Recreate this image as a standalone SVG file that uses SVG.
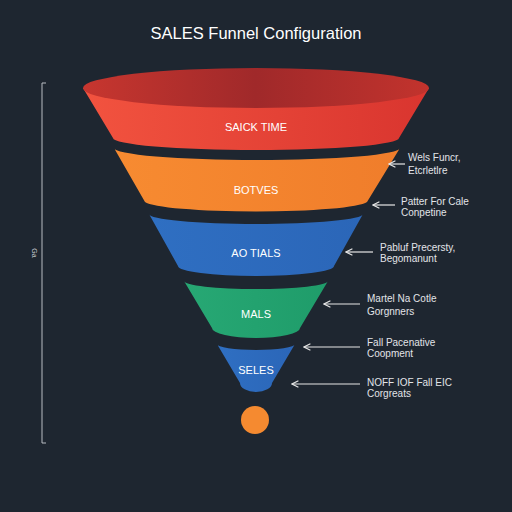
<svg xmlns="http://www.w3.org/2000/svg" width="512" height="512" viewBox="0 0 512 512">
<defs>
<linearGradient id="gRed" x1="0" x2="1" y1="0" y2="0"><stop offset="0" stop-color="#f2533f"/><stop offset="1" stop-color="#d9352f"/></linearGradient>
<linearGradient id="gRedTop" x1="0" x2="1" y1="0" y2="0"><stop offset="0" stop-color="#c7362f"/><stop offset="0.5" stop-color="#a0292a"/><stop offset="1" stop-color="#c2332d"/></linearGradient>
<linearGradient id="gOrange" x1="0" x2="1" y1="0" y2="0"><stop offset="0" stop-color="#f78b31"/><stop offset="1" stop-color="#f07d2b"/></linearGradient>
<linearGradient id="gBlue" x1="0" x2="1" y1="0" y2="0"><stop offset="0" stop-color="#2f6fc2"/><stop offset="1" stop-color="#2b66b8"/></linearGradient>
<linearGradient id="gGreen" x1="0" x2="1" y1="0" y2="0"><stop offset="0" stop-color="#27a874"/><stop offset="1" stop-color="#1f9c6a"/></linearGradient>
<marker id="ah" viewBox="0 0 10 10" refX="1" refY="5" markerWidth="8" markerHeight="8" markerUnits="userSpaceOnUse" orient="auto">
<polyline points="9,1 1,5 9,9" fill="none" stroke="#e6e6e6" stroke-width="1.4"/>
</marker>
<style>
.band{font-family:"Liberation Sans","DejaVu Sans",sans-serif;font-size:11px;fill:#ffffff;text-anchor:middle;}
.lbl{font-family:"Liberation Sans","DejaVu Sans",sans-serif;font-size:10px;fill:#e2e4e8;}
.conn{stroke:#e6e6e6;stroke-width:1.2;fill:none;marker-start:url(#ah);}
</style>
</defs>
<rect width="512" height="512" fill="#1e2630"/>
<text x="256" y="39" font-family="Liberation Sans, DejaVu Sans, sans-serif" font-size="16.5" fill="#ffffff" text-anchor="middle">SALES Funnel Configuration</text>

<g id="bracket" stroke="#b8bcc2" stroke-width="1" fill="none">
<path d="M46,83 H42 V443 H46"/>
<text x="32" y="253" transform="rotate(90 32 253)" font-family="Liberation Sans, sans-serif" font-size="7" fill="#c8ccd2" stroke="none" text-anchor="middle">Ga</text>
</g>

<g id="stage1">
<path d="M83,88 L113,138 A143,12 0 0 0 399,138 L429,88 Z" fill="url(#gRed)"/>
<ellipse cx="256" cy="88" rx="173" ry="20" fill="url(#gRedTop)"/>
<text class="band" x="256" y="131">SAICK TIME</text>
</g>
<g id="stage2">
<path d="M114,148 A143,12 0 0 0 400,148 L367,202 A112,11 0 0 1 145,202 Z" fill="url(#gOrange)"/>
<text class="band" x="256" y="194">BOTVES</text>
</g>
<g id="stage3">
<path d="M149,214 A107,10 0 0 0 363,214 L334,266 A78,10 0 0 1 178,266 Z" fill="url(#gBlue)"/>
<text class="band" x="256" y="257">AO TIALS</text>
</g>
<g id="stage4">
<path d="M184,281 A72,8 0 0 0 328,281 L300,328 A44,10 0 0 1 212,328 Z" fill="url(#gGreen)"/>
<text class="band" x="256" y="318">MALS</text>
</g>
<g id="stage5">
<path d="M217,344 A39,6 0 0 0 295,344 L272,383 A16,9 0 0 1 240,383 Z" fill="url(#gBlue)"/>
<text class="band" x="256" y="374">SELES</text>
</g>
<g id="dot">
<circle cx="255" cy="420" r="14" fill="#f58a30"/>
</g>

<g id="connectors">
<line class="conn" x1="389" y1="164" x2="405" y2="164"/>
<line class="conn" x1="373" y1="205" x2="395" y2="205"/>
<line class="conn" x1="346" y1="252" x2="373" y2="252"/>
<line class="conn" x1="324" y1="304" x2="360" y2="304"/>
<line class="conn" x1="304" y1="347" x2="360" y2="347"/>
<line class="conn" x1="292" y1="384" x2="360" y2="384"/>
</g>

<g id="note1"><text class="lbl" x="408" y="161">Wels Funcr,</text><text class="lbl" x="408" y="174">Etcrletlre</text></g>
<g id="note2"><text class="lbl" x="401" y="205">Patter For Cale</text><text class="lbl" x="401" y="216">Conpetine</text></g>
<g id="note3"><text class="lbl" x="380" y="251">Pabluf Precersty,</text><text class="lbl" x="380" y="262">Begomanunt</text></g>
<g id="note4"><text class="lbl" x="367" y="302">Martel Na Cotle</text><text class="lbl" x="367" y="315">Gorgnners</text></g>
<g id="note5"><text class="lbl" x="367" y="346">Fall Pacenative</text><text class="lbl" x="367" y="357">Coopment</text></g>
<g id="note6"><text class="lbl" x="367" y="386">NOFF IOF Fall EIC</text><text class="lbl" x="367" y="397">Corgreats</text></g>
</svg>
